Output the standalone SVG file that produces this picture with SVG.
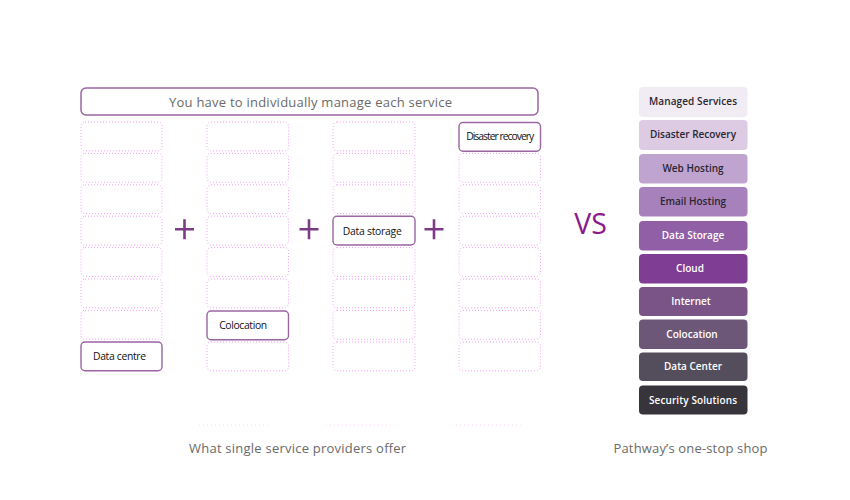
<svg xmlns="http://www.w3.org/2000/svg" width="850" height="500" viewBox="0 0 850 500">
<style>
.slot{fill:none;stroke:#f39ef3;stroke-width:1;stroke-dasharray:1 2}
.node{fill:#fff;stroke:#9b64a3;stroke-width:1.4}
.nl{font-family:"Open Sans","Liberation Sans",sans-serif;font-size:10.4px;fill:#111;text-anchor:middle}
.cap{font-family:"Open Sans","Liberation Sans",sans-serif;font-size:13px;fill:#6a6a6a;text-anchor:middle}
.plus{stroke:#7d3a87;stroke-width:2.6;fill:none}
.st{font-family:"Open Sans","Liberation Sans",sans-serif;font-size:10px;font-weight:600;text-anchor:middle}
.dk{fill:#2a2630}
.lt{fill:#ffffff}
.faint{stroke:#fbdcf8;stroke-width:1;stroke-dasharray:1 3}
</style>
<rect width="850" height="500" fill="#fff"/>

<g id="banner">
<rect x="81" y="88" width="457" height="27" rx="5" fill="#fff" stroke="#9b64a3" stroke-width="1.5"/>
<text class="cap" x="310.5" y="107" textLength="283" lengthAdjust="spacing">You have to individually manage each service</text>
</g>

<g id="col1">
<rect class="slot" x="81" y="122" width="81" height="28.8" rx="4"/>
<rect class="slot" x="81" y="153.4" width="81" height="28.8" rx="4"/>
<rect class="slot" x="81" y="184.8" width="81" height="28.8" rx="4"/>
<rect class="slot" x="81" y="216.2" width="81" height="28.8" rx="4"/>
<rect class="slot" x="81" y="247.6" width="81" height="28.8" rx="4"/>
<rect class="slot" x="81" y="279" width="81" height="28.8" rx="4"/>
<rect class="slot" x="81" y="310.4" width="81" height="28.8" rx="4"/>
</g>
<g id="node-data-centre">
<rect class="node" x="81" y="342" width="81" height="28.8" rx="4"/>
<text class="nl" x="119.5" y="360.3" textLength="53" lengthAdjust="spacing">Data centre</text>
</g>

<g id="col2">
<rect class="slot" x="207" y="122" width="81.5" height="28.8" rx="4"/>
<rect class="slot" x="207" y="153.4" width="81.5" height="28.8" rx="4"/>
<rect class="slot" x="207" y="184.8" width="81.5" height="28.8" rx="4"/>
<rect class="slot" x="207" y="216.2" width="81.5" height="28.8" rx="4"/>
<rect class="slot" x="207" y="247.6" width="81.5" height="28.8" rx="4"/>
<rect class="slot" x="207" y="279" width="81.5" height="28.8" rx="4"/>
<rect class="slot" x="207" y="342" width="81.5" height="28.8" rx="4"/>
</g>
<g id="node-colocation">
<rect class="node" x="207" y="311" width="81.5" height="28.8" rx="4"/>
<text class="nl" x="243.2" y="329.3" textLength="48" lengthAdjust="spacing">Colocation</text>
</g>

<g id="col3">
<rect class="slot" x="333" y="122" width="82" height="28.8" rx="4"/>
<rect class="slot" x="333" y="153.4" width="82" height="28.8" rx="4"/>
<rect class="slot" x="333" y="184.8" width="82" height="28.8" rx="4"/>
<rect class="slot" x="333" y="247.6" width="82" height="28.8" rx="4"/>
<rect class="slot" x="333" y="279" width="82" height="28.8" rx="4"/>
<rect class="slot" x="333" y="310.4" width="82" height="28.8" rx="4"/>
<rect class="slot" x="333" y="342" width="82" height="28.8" rx="4"/>
</g>
<g id="node-data-storage">
<rect class="node" x="333" y="216.2" width="82" height="28.8" rx="4"/>
<text class="nl" x="372.3" y="234.7" textLength="59" lengthAdjust="spacing">Data storage</text>
</g>

<g id="col4">
<rect class="slot" x="459" y="153.4" width="81.5" height="28.8" rx="4"/>
<rect class="slot" x="459" y="184.8" width="81.5" height="28.8" rx="4"/>
<rect class="slot" x="459" y="216.2" width="81.5" height="28.8" rx="4"/>
<rect class="slot" x="459" y="247.6" width="81.5" height="28.8" rx="4"/>
<rect class="slot" x="459" y="279" width="81.5" height="28.8" rx="4"/>
<rect class="slot" x="459" y="310.4" width="81.5" height="28.8" rx="4"/>
<rect class="slot" x="459" y="342" width="81.5" height="28.8" rx="4"/>
</g>
<g id="node-disaster-recovery">
<rect class="node" x="459" y="122.5" width="81.5" height="28.8" rx="4"/>
<text class="nl" x="500.2" y="140.2" font-size="8.6" textLength="68" lengthAdjust="spacing">Disaster recovery</text>
</g>

<g id="connectors">
<path class="plus" d="M175 229.3H194M184.5 219.3V239.3"/>
<path class="plus" d="M299.5 229.3H318.5M309 219.3V239.3"/>
<path class="plus" d="M424.5 229.3H443.5M434 219.3V239.3"/>
</g>

<g id="faint-lines">
<line class="faint" x1="199" y1="425" x2="269" y2="425"/>
<line class="faint" x1="326" y1="425" x2="396" y2="425"/>
<line class="faint" x1="452" y1="425" x2="522" y2="425"/>
</g>

<text class="cap" x="297.5" y="452.5" textLength="217" lengthAdjust="spacing">What single service providers offer</text>

<g id="vs">
<text x="590.5" y="233.5" font-family="'Open Sans','Liberation Sans',sans-serif" font-size="28.5" fill="#8b1a8c" text-anchor="middle">VS</text>
</g>

<g id="stack">
<g id="s-managed"><rect x="639" y="87" width="108.5" height="30" rx="4" fill="#f1ebf4"/><text class="st dk" x="693" y="105.3" textLength="88" lengthAdjust="spacing">Managed Services</text></g>
<g id="s-disaster"><rect x="639" y="120" width="108.5" height="30" rx="4" fill="#dccbe3"/><text class="st dk" x="693" y="138.3" textLength="86" lengthAdjust="spacing">Disaster Recovery</text></g>
<g id="s-web"><rect x="639" y="154" width="108.5" height="29.5" rx="4" fill="#c0a4d0"/><text class="st dk" x="693" y="172.3">Web Hosting</text></g>
<g id="s-email"><rect x="639" y="187" width="108.5" height="29.5" rx="4" fill="#a781bb"/><text class="st dk" x="693" y="205.3">Email Hosting</text></g>
<g id="s-storage"><rect x="639" y="221" width="108.5" height="29.5" rx="4" fill="#915fa6"/><text class="st lt" x="693" y="239.3">Data Storage</text></g>
<g id="s-cloud"><rect x="639" y="254" width="108.5" height="29.5" rx="4" fill="#7f3e93"/><text class="st lt" x="690" y="272.3">Cloud</text></g>
<g id="s-internet"><rect x="639" y="287" width="108.5" height="29" rx="4" fill="#7a5486"/><text class="st lt" x="691" y="305">Internet</text></g>
<g id="s-colocation"><rect x="639" y="319.5" width="108.5" height="29.5" rx="4" fill="#6c5778"/><text class="st lt" x="692" y="337.8">Colocation</text></g>
<g id="s-datacenter"><rect x="639" y="352.5" width="108.5" height="28.5" rx="4" fill="#544d5b"/><text class="st lt" x="693" y="370.3">Data Center</text></g>
<g id="s-security"><rect x="639" y="385.5" width="108.5" height="29" rx="4" fill="#38343b"/><text class="st lt" x="693" y="404" textLength="88" lengthAdjust="spacing">Security Solutions</text></g>
</g>

<text class="cap" x="690.5" y="452.5" textLength="154" lengthAdjust="spacing">Pathway’s one-stop shop</text>
</svg>
